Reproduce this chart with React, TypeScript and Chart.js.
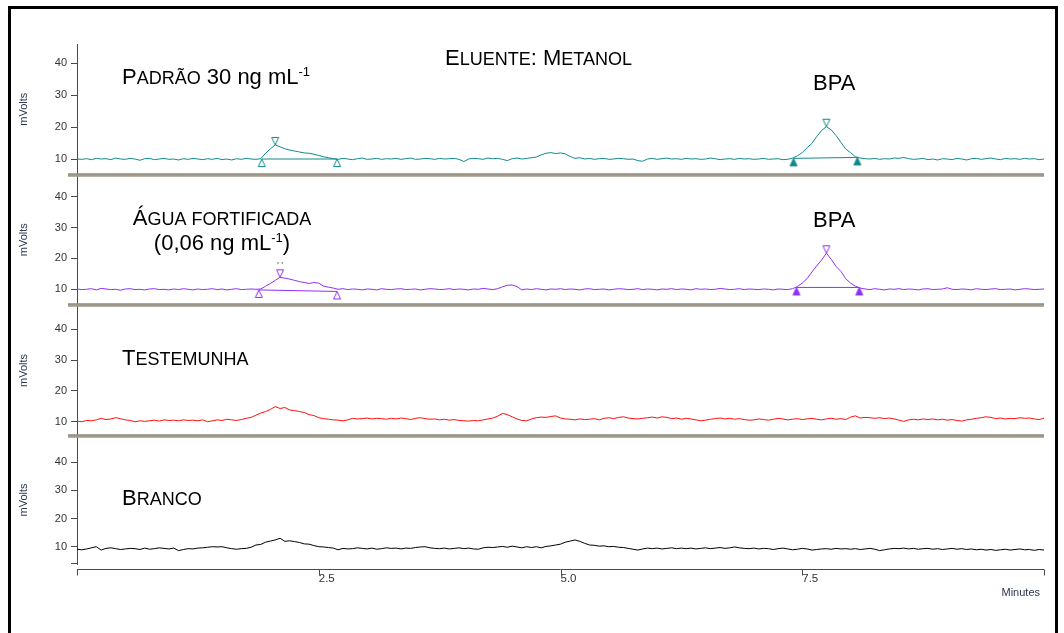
import React, { useEffect, useRef } from 'react';
import { Chart, registerables } from 'chart.js';

Chart.register(...registerables);

const FONT = "'Liberation Sans', Arial, Helvetica, sans-serif";

// Detector sampling grid: one reading every 0.05 min from 0 to 10 min
const SAMPLE_STEP = 0.05;
const sampleTimes = Array.from({ length: 201 }, (_, i) => Math.round(i * SAMPLE_STEP * 100) / 100);

// Signal (mV) of each run, one value per sample time
const padraoSignal = [
  10.0, 9.9, 10.1, 9.8, 10.2, 10.0, 10.1, 9.8, 10.3, 10.0, 9.9, 10.2, 10.0, 9.6, 10.1, 10.2, 9.8, 10.0, 10.2, 9.9,
  10.0, 9.7, 10.1, 9.9, 10.2, 10.0, 9.8, 10.1, 9.9, 10.2, 9.8, 10.0, 9.7, 10.1, 9.9, 10.2, 10.0, 9.9, 10.1, 11.8,
  13.2, 14.4, 13.8, 13.2, 12.8, 12.5, 12.2, 11.9, 11.8, 11.5, 11.1, 10.7, 10.4, 10.1, 9.9, 10.2, 10.0, 9.8, 10.1, 10.3,
  9.9, 10.0, 10.2, 9.9, 10.1, 10.0, 10.2, 9.9, 10.1, 10.3, 9.9, 10.0, 10.2, 10.1, 9.9, 10.2, 10.0, 10.1, 10.2, 9.9,
  9.2, 10.0, 10.2, 10.1, 9.9, 10.3, 10.1, 10.2, 9.9, 9.5, 10.1, 10.3, 10.0, 10.2, 10.4, 10.6, 11.3, 11.8, 12.0, 11.7,
  11.9, 11.6, 10.8, 10.2, 10.4, 10.0, 10.2, 9.9, 10.1, 10.2, 9.9, 10.0, 10.2, 10.1, 9.9, 10.0, 9.5, 9.3, 10.0, 10.2,
  9.9, 10.1, 10.3, 10.0, 10.1, 9.9, 10.2, 10.0, 10.1, 9.9, 10.0, 10.3, 10.1, 9.8, 10.0, 10.1, 9.9, 10.2, 10.0, 10.1,
  9.9, 10.0, 10.2, 9.9, 10.0, 10.1, 9.8, 9.9, 10.3, 11.0, 12.0, 13.5, 14.9, 17.0, 18.9, 20.1, 19.1, 17.3, 15.2, 13.1,
  12.0, 10.7, 10.3, 10.1, 10.0, 10.2, 9.9, 10.1, 10.0, 10.3, 10.2, 10.5, 10.1, 9.9, 10.0, 10.2, 9.8, 10.0, 9.7, 10.1,
  10.0, 9.8, 10.2, 10.0, 9.7, 10.1, 10.2, 9.9, 10.1, 10.3, 10.0, 9.8, 10.2, 10.0, 10.1, 9.9, 10.2, 10.0, 10.1, 9.8,
  10.0,
];

const fortificadaSignal = [
  10.1, 9.9, 10.0, 10.2, 9.8, 10.3, 10.1, 9.9, 10.0, 9.7, 10.1, 10.2, 9.9, 10.0, 9.8, 10.1, 10.2, 9.9, 10.0, 9.8,
  10.1, 9.9, 10.2, 10.0, 9.8, 10.1, 9.9, 10.0, 10.2, 9.9, 10.1, 9.8, 10.0, 10.2, 9.9, 10.0, 10.1, 10.0, 10.1, 11.0,
  11.9, 12.9, 13.9, 13.6, 13.3, 12.9, 12.5, 12.2, 11.9, 12.2, 12.0, 11.0, 10.7, 10.4, 10.0, 10.2, 9.9, 10.1, 10.0, 9.8,
  10.1, 10.0, 9.8, 10.2, 10.0, 9.9, 10.1, 10.2, 9.9, 10.0, 10.1, 9.8, 10.0, 10.2, 10.1, 9.9, 10.0, 10.2, 9.9, 10.1,
  10.0, 9.8, 10.1, 10.0, 10.3, 10.1, 9.9, 10.2, 10.8, 11.3, 11.4, 10.9, 9.8, 10.1, 9.9, 10.2, 10.0, 9.8, 10.1, 10.0,
  10.2, 9.9, 10.1, 10.0, 9.8, 10.1, 10.2, 9.9, 10.0, 10.1, 9.8, 10.0, 10.2, 10.1, 9.9, 10.0, 10.2, 9.9, 10.1, 10.0,
  9.8, 10.1, 10.0, 10.2, 9.9, 10.1, 10.0, 9.8, 10.2, 10.0, 10.1, 9.9, 10.0, 10.3, 10.1, 9.9, 10.0, 10.2, 9.9, 10.1,
  10.0, 9.9, 10.1, 10.0, 9.8, 10.1, 10.0, 9.9, 10.2, 10.9, 12.0, 13.5, 15.6, 17.6, 19.5, 21.7, 19.7, 17.4, 15.8, 13.4,
  12.0, 11.0, 10.4, 10.1, 9.9, 10.2, 10.0, 9.8, 10.1, 10.0, 10.2, 9.9, 10.1, 10.0, 9.8, 10.1, 10.2, 9.9, 10.0, 10.1,
  10.5, 10.0, 9.9, 10.1, 10.0, 9.8, 10.2, 10.0, 9.9, 10.1, 10.2, 9.9, 10.0, 10.1, 9.8, 10.0, 10.2, 10.1, 9.9, 10.0,
  10.1,
];

const testemunhaSignal = [
  10.2, 10.0, 10.4, 10.3, 10.6, 11.1, 10.7, 10.9, 11.3, 11.0, 10.6, 10.4, 10.0, 10.3, 10.1, 10.3, 10.5, 10.2, 10.6, 10.4,
  10.5, 10.3, 10.6, 10.4, 10.5, 10.3, 10.6, 10.0, 10.3, 10.6, 10.4, 10.8, 10.6, 10.4, 10.7, 11.1, 11.4, 12.1, 12.8, 13.3,
  14.0, 14.9, 14.3, 14.6, 13.8, 13.6, 13.3, 13.0, 12.3, 12.0, 11.3, 11.0, 10.8, 10.6, 10.5, 10.3, 10.6, 11.1, 10.9, 11.0,
  11.2, 10.9, 11.1, 11.0, 10.8, 11.1, 10.9, 11.2, 11.0, 10.7, 11.1, 11.3, 11.0, 10.8, 10.9, 10.6, 10.8, 10.5, 10.7, 10.4,
  10.3, 10.2, 10.4, 10.3, 10.6, 10.9, 11.2, 11.8, 12.7, 12.3, 11.6, 10.9, 10.4, 10.3, 10.9, 11.3, 11.5, 11.4, 11.7, 11.9,
  11.2, 10.9, 10.8, 10.6, 10.9, 10.7, 10.8, 11.0, 10.6, 11.1, 11.3, 11.0, 11.4, 11.6, 11.2, 11.0, 10.9, 11.1, 11.3, 11.5,
  11.2, 11.6, 11.4, 11.0, 11.2, 10.8, 11.1, 10.9, 10.6, 10.3, 10.5, 10.8, 11.0, 11.2, 10.9, 11.1, 10.8, 11.0, 10.7, 10.5,
  10.6, 10.9, 10.7, 10.5, 10.8, 11.1, 10.9, 10.6, 10.8, 11.0, 10.7, 10.9, 11.1, 10.8, 10.6, 10.9, 11.1, 10.8, 11.0, 10.7,
  11.5, 11.9, 11.2, 11.4, 11.3, 11.1, 11.3, 11.0, 11.2, 10.9, 10.5, 10.1, 10.6, 10.8, 10.6, 10.9, 10.7, 10.9, 10.6, 10.8,
  10.5, 10.7, 10.4, 10.2, 10.6, 10.8, 11.1, 11.3, 11.6, 11.4, 11.0, 11.2, 10.9, 11.1, 11.0, 11.3, 11.1, 11.2, 10.9, 10.7,
  11.1,
];

const brancoSignal = [
  9.1, 8.9, 9.2, 9.6, 10.0, 8.8, 9.4, 9.6, 9.3, 9.0, 9.2, 9.4, 9.3, 9.0, 9.5, 9.1, 9.3, 9.6, 9.4, 9.2,
  9.5, 8.6, 9.0, 9.3, 9.2, 9.5, 9.6, 9.8, 10.0, 9.9, 10.0, 9.6, 9.3, 9.1, 9.3, 9.4, 9.8, 10.6, 10.8, 11.6,
  12.0, 12.4, 13.0, 11.9, 12.1, 11.8, 11.5, 11.0, 10.9, 10.4, 10.0, 9.9, 9.7, 9.5, 8.9, 9.4, 9.2, 9.3, 9.6, 9.4,
  9.2, 9.5, 9.1, 9.3, 9.6, 9.4, 9.5, 9.2, 9.5, 9.4, 9.7, 9.9, 10.0, 9.6, 9.4, 9.3, 9.5, 9.2, 9.4, 9.6,
  9.3, 9.5, 9.2, 9.1, 9.6, 9.8, 9.7, 9.9, 10.1, 9.8, 10.2, 9.9, 9.6, 10.0, 9.7, 10.0, 9.6, 10.1, 10.3, 10.6,
  10.9, 11.6, 12.0, 12.4, 11.9, 11.2, 10.6, 10.5, 10.2, 10.3, 10.0, 10.1, 9.8, 9.7, 9.4, 9.1, 8.8, 9.2, 9.5, 9.3,
  9.5, 9.2, 9.4, 9.6, 9.3, 9.5, 9.3, 9.5, 9.2, 9.4, 9.6, 9.3, 9.5, 9.7, 9.4, 9.6, 9.9, 9.6, 9.4, 9.3,
  9.5, 9.2, 9.4, 9.3, 9.0, 9.3, 9.5, 9.2, 8.9, 9.1, 9.4, 9.2, 8.8, 9.0, 9.2, 9.3, 9.1, 9.4, 9.2, 9.3,
  9.1, 9.3, 9.0, 9.2, 9.4, 9.1, 8.6, 8.9, 9.2, 9.4, 9.3, 9.5, 9.2, 9.4, 9.1, 9.3, 9.4, 9.1, 9.3, 9.0,
  9.2, 9.4, 9.1, 9.3, 9.0, 9.2, 8.9, 9.1, 8.8, 9.0, 8.7, 8.9, 9.1, 8.8, 9.0, 9.2, 8.9, 9.0, 8.7, 9.0,
  8.8,
];

// Integrated peaks: [time (min), signal (mV)] at start, apex and end
const padraoPeaks = [
  { start: [1.91, 10.0], apex: [2.05, 14.4], end: [2.69, 10.0], solidEnds: false },
  { start: [7.41, 10.2], apex: [7.75, 20.1], end: [8.07, 10.5], solidEnds: true },
];
const fortificadaPeaks = [
  { start: [1.88, 9.8], apex: [2.10, 13.9], end: [2.69, 9.3], solidEnds: false },
  { start: [7.44, 10.6], apex: [7.75, 21.7], end: [8.09, 10.6], solidEnds: true },
];

const yTickValues = [10, 20, 30, 40];
const xTickValues = [0, 2.5, 5, 7.5, 10];
const xTickLabels = ['', '2.5', '5.0', '7.5', ''];

type Peak = { start: number[]; apex: number[]; end: number[]; solidEnds: boolean };
type Panel = {
  id: string;
  name: string;
  color: string;
  signal: number[];
  peaks: Peak[];
  min: number;
  max: number;
  stackWeight: number;
  weight: number;
};

const panels: Panel[] = [
  { id: 'yPadrao', name: 'Padrão 30 ng/mL', color: '#128a8a', signal: padraoSignal, peaks: padraoPeaks, min: 5.16, max: 45.94, stackWeight: 130.5, weight: 4 },
  { id: 'yFortificada', name: 'Água fortificada', color: '#9030f5', signal: fortificadaSignal, peaks: fortificadaPeaks, min: 4.91, max: 47.2, stackWeight: 130.5, weight: 3 },
  { id: 'yTestemunha', name: 'Testemunha', color: '#ff1010', signal: testemunhaSignal, peaks: [], min: 5.36, max: 47.9, stackWeight: 131, weight: 2 },
  { id: 'yBranco', name: 'Branco', color: '#000000', signal: brancoSignal, peaks: [], min: 3.85, max: 49.35, stackWeight: 128, weight: 1 },
];

const AXIS_COLOR = '#4a4a4a';
const TICK_TEXT = '#34332c';
const AXIS_TITLE = '#2d3550';

// Small-caps style headings: [text, font size, baseline rise]
type Run = [string, number, number?];
const titleRuns: Run[] = [['E', 22], ['LUENTE', 18], [': ', 22], ['M', 22], ['ETANOL', 18]];
const padraoRuns: Run[] = [['P', 22], ['ADRÃO', 18], [' 30 ng mL', 22], ['-1', 13, 8]];
const aguaRuns1: Run[] = [['Á', 22], ['GUA FORTIFICADA', 18]];
const aguaRuns2: Run[] = [['(0,06 ng mL', 22], ['-1', 13, 8], [')', 22]];
const testemunhaRuns: Run[] = [['T', 22], ['ESTEMUNHA', 18]];
const brancoRuns: Run[] = [['B', 22], ['RANCO', 18]];
const bpaRuns: Run[] = [['BPA', 22]];

function runsWidth(ctx: CanvasRenderingContext2D, runs: Run[]) {
  let w = 0;
  for (const [text, size] of runs) {
    ctx.font = `${size}px ${FONT}`;
    w += ctx.measureText(text).width;
  }
  return w;
}

function drawRuns(ctx: CanvasRenderingContext2D, runs: Run[], x: number, y: number) {
  let cx = x;
  ctx.textAlign = 'left';
  ctx.textBaseline = 'alphabetic';
  for (const [text, size, rise] of runs) {
    ctx.font = `${size}px ${FONT}`;
    ctx.fillText(text, cx, y - (rise || 0));
    cx += ctx.measureText(text).width;
  }
}

// Triangle marker drawn so that its tip sits on the data point
function triangleIcon(color: string, solid: boolean, pointingDown: boolean) {
  const c = document.createElement('canvas');
  c.width = 10;
  c.height = 20;
  const g = c.getContext('2d')!;
  g.beginPath();
  if (pointingDown) {
    g.moveTo(5, 10);
    g.lineTo(1.5, 2.5);
    g.lineTo(8.5, 2.5);
  } else {
    g.moveTo(5, 10);
    g.lineTo(1.5, 17.5);
    g.lineTo(8.5, 17.5);
  }
  g.closePath();
  if (solid) {
    g.fillStyle = color;
    g.fill();
  }
  g.strokeStyle = color;
  g.lineWidth = 1;
  g.stroke();
  return c;
}

const decorPlugin = {
  id: 'chromDecor',
  beforeDraw(chart: any) {
    const ctx = chart.ctx;
    ctx.save();
    ctx.fillStyle = '#ffffff';
    ctx.fillRect(0, 0, chart.width, chart.height);
    ctx.restore();
  },
  afterDatasetsDraw(chart: any) {
    const ctx: CanvasRenderingContext2D = chart.ctx;
    const xs = chart.scales.x;
    const area = chart.chartArea;
    ctx.save();

    // panel separators (double rule)
    for (let i = 0; i < panels.length - 1; i++) {
      const b = Math.round(chart.scales[panels[i].id].bottom);
      ctx.fillStyle = '#b3aea1';
      ctx.fillRect(68, b - 1.5, area.right - 68, 3);
      ctx.fillStyle = '#7e796c';
      ctx.fillRect(68, b - 1.5, area.right - 68, 1);
      ctx.fillStyle = '#8f8a7d';
      ctx.fillRect(68, b + 0.5, area.right - 68, 1);
    }

    // bottom tick of the lowest y axis
    ctx.strokeStyle = AXIS_COLOR;
    ctx.lineWidth = 1;
    ctx.beginPath();
    const yb = Math.round(area.bottom) - 0.5;
    ctx.moveTo(area.left - 6, yb);
    ctx.lineTo(area.left, yb);
    ctx.stroke();

    // time axis line, a few pixels below the plot
    const ax = Math.round(area.bottom + 5) + 0.5;
    ctx.beginPath();
    ctx.moveTo(xs.left, ax);
    ctx.lineTo(xs.right, ax);
    for (const v of xTickValues) {
      const px = Math.round(xs.getPixelForValue(v)) + 0.5;
      ctx.moveTo(px, ax);
      ctx.lineTo(px, ax + 6);
    }
    ctx.stroke();

    // two dots above the first apex marker of the fortified sample
    const fy = chart.scales[panels[1].id];
    const apex = fortificadaPeaks[0].apex;
    const apx = xs.getPixelForValue(apex[0]);
    const apy = fy.getPixelForValue(apex[1]);
    ctx.fillStyle = '#6a5a80';
    ctx.fillRect(apx - 2.8, apy - 15, 1.3, 1.3);
    ctx.fillRect(apx + 1.6, apy - 15, 1.3, 1.3);
    ctx.restore();
  },
  afterDraw(chart: any) {
    const ctx: CanvasRenderingContext2D = chart.ctx;
    const xs = chart.scales.x;
    ctx.save();
    ctx.fillStyle = '#000000';

    drawRuns(ctx, titleRuns, 445, 65);
    drawRuns(ctx, padraoRuns, 122, 84);
    drawRuns(ctx, bpaRuns, 813, 89.5);

    const cx = 222;
    drawRuns(ctx, aguaRuns1, cx - runsWidth(ctx, aguaRuns1) / 2, 225);
    drawRuns(ctx, aguaRuns2, cx - runsWidth(ctx, aguaRuns2) / 2, 249.5);
    drawRuns(ctx, bpaRuns, 813, 226.7);

    drawRuns(ctx, testemunhaRuns, 122, 365);
    drawRuns(ctx, brancoRuns, 122, 505);

    // time axis title
    ctx.fillStyle = AXIS_TITLE;
    ctx.font = `11px ${FONT}`;
    ctx.textAlign = 'right';
    ctx.fillText('Minutes', xs.right - 4, 596);

    // outer frame
    ctx.strokeStyle = '#000000';
    ctx.lineWidth = 3;
    ctx.strokeRect(9.5, 7.5, 1047, 640);
    ctx.restore();
  },
};

export default function App() {
  const ref = useRef<HTMLCanvasElement>(null);

  useEffect(() => {
    if (!ref.current) return;

    const datasets: any[] = [];
    const scales: any = {
      x: {
        type: 'linear',
        position: 'bottom',
        min: 0,
        max: 10,
        afterBuildTicks: (s: any) => {
          s.ticks = xTickValues.map((v) => ({ value: v }));
        },
        afterFit: (s: any) => {
          s.height = 30;
        },
        grid: { display: false, drawTicks: false },
        border: { display: false },
        ticks: {
          autoSkip: false,
          maxRotation: 0,
          align: 'start',
          padding: 7.5,
          color: TICK_TEXT,
          font: { size: 11.5, family: FONT },
          callback: (_v: any, i: number) => xTickLabels[i],
        },
      },
    };

    for (const p of panels) {
      scales[p.id] = {
        type: 'linear',
        position: 'left',
        stack: 'runs',
        stackWeight: p.stackWeight,
        weight: p.weight,
        min: p.min,
        max: p.max,
        afterBuildTicks: (s: any) => {
          s.ticks = yTickValues.map((v) => ({ value: v }));
        },
        afterFit: (s: any) => {
          s.width = 77;
        },
        grid: { drawOnChartArea: false, drawTicks: true, tickLength: 6, color: AXIS_COLOR, lineWidth: 1 },
        border: { display: true, color: AXIS_COLOR, width: 1 },
        ticks: { autoSkip: false, padding: 4, color: TICK_TEXT, font: { size: 11, family: FONT } },
        title: {
          display: true,
          text: 'mVolts',
          color: AXIS_TITLE,
          font: { size: 11, family: FONT },
          padding: { top: 17.4, bottom: 0 },
        },
      };

      datasets.push({
        label: p.name,
        data: sampleTimes.map((t, k) => ({ x: t, y: p.signal[k] })),
        yAxisID: p.id,
        borderColor: p.color,
        borderWidth: 1,
        pointRadius: 0,
        tension: 0,
        fill: false,
      });

      for (const pk of p.peaks) {
        datasets.push({
          label: `${p.name} baseline`,
          data: [
            { x: pk.start[0], y: pk.start[1] },
            { x: pk.end[0], y: pk.end[1] },
          ],
          yAxisID: p.id,
          borderColor: p.color,
          borderWidth: 1,
          pointRadius: 0,
          tension: 0,
          fill: false,
        });
        const up = triangleIcon(p.color, pk.solidEnds, false);
        const down = triangleIcon(p.color, false, true);
        datasets.push({
          label: `${p.name} marks`,
          data: [
            { x: pk.start[0], y: pk.start[1] },
            { x: pk.apex[0], y: pk.apex[1] },
            { x: pk.end[0], y: pk.end[1] },
          ],
          yAxisID: p.id,
          showLine: false,
          pointStyle: [up, down, up],
          pointRadius: 3,
          borderWidth: 0,
          clip: false,
        });
      }
    }

    const chart = new Chart(ref.current, {
      type: 'line',
      data: { datasets },
      options: {
        responsive: false,
        animation: false,
        devicePixelRatio: 1,
        layout: { padding: { left: 0, top: 44, right: 20, bottom: 39 } },
        plugins: {
          legend: { display: false },
          tooltip: { enabled: false },
        },
        scales,
      } as any,
      plugins: [decorPlugin],
    });

    return () => chart.destroy();
  }, []);

  return (
    <div style={{ position: 'fixed', left: 0, top: 0, width: 1064, height: 633, background: '#ffffff' }}>
      <canvas ref={ref} width={1064} height={633} style={{ display: 'block', width: 1064, height: 633 }} />
    </div>
  );
}
